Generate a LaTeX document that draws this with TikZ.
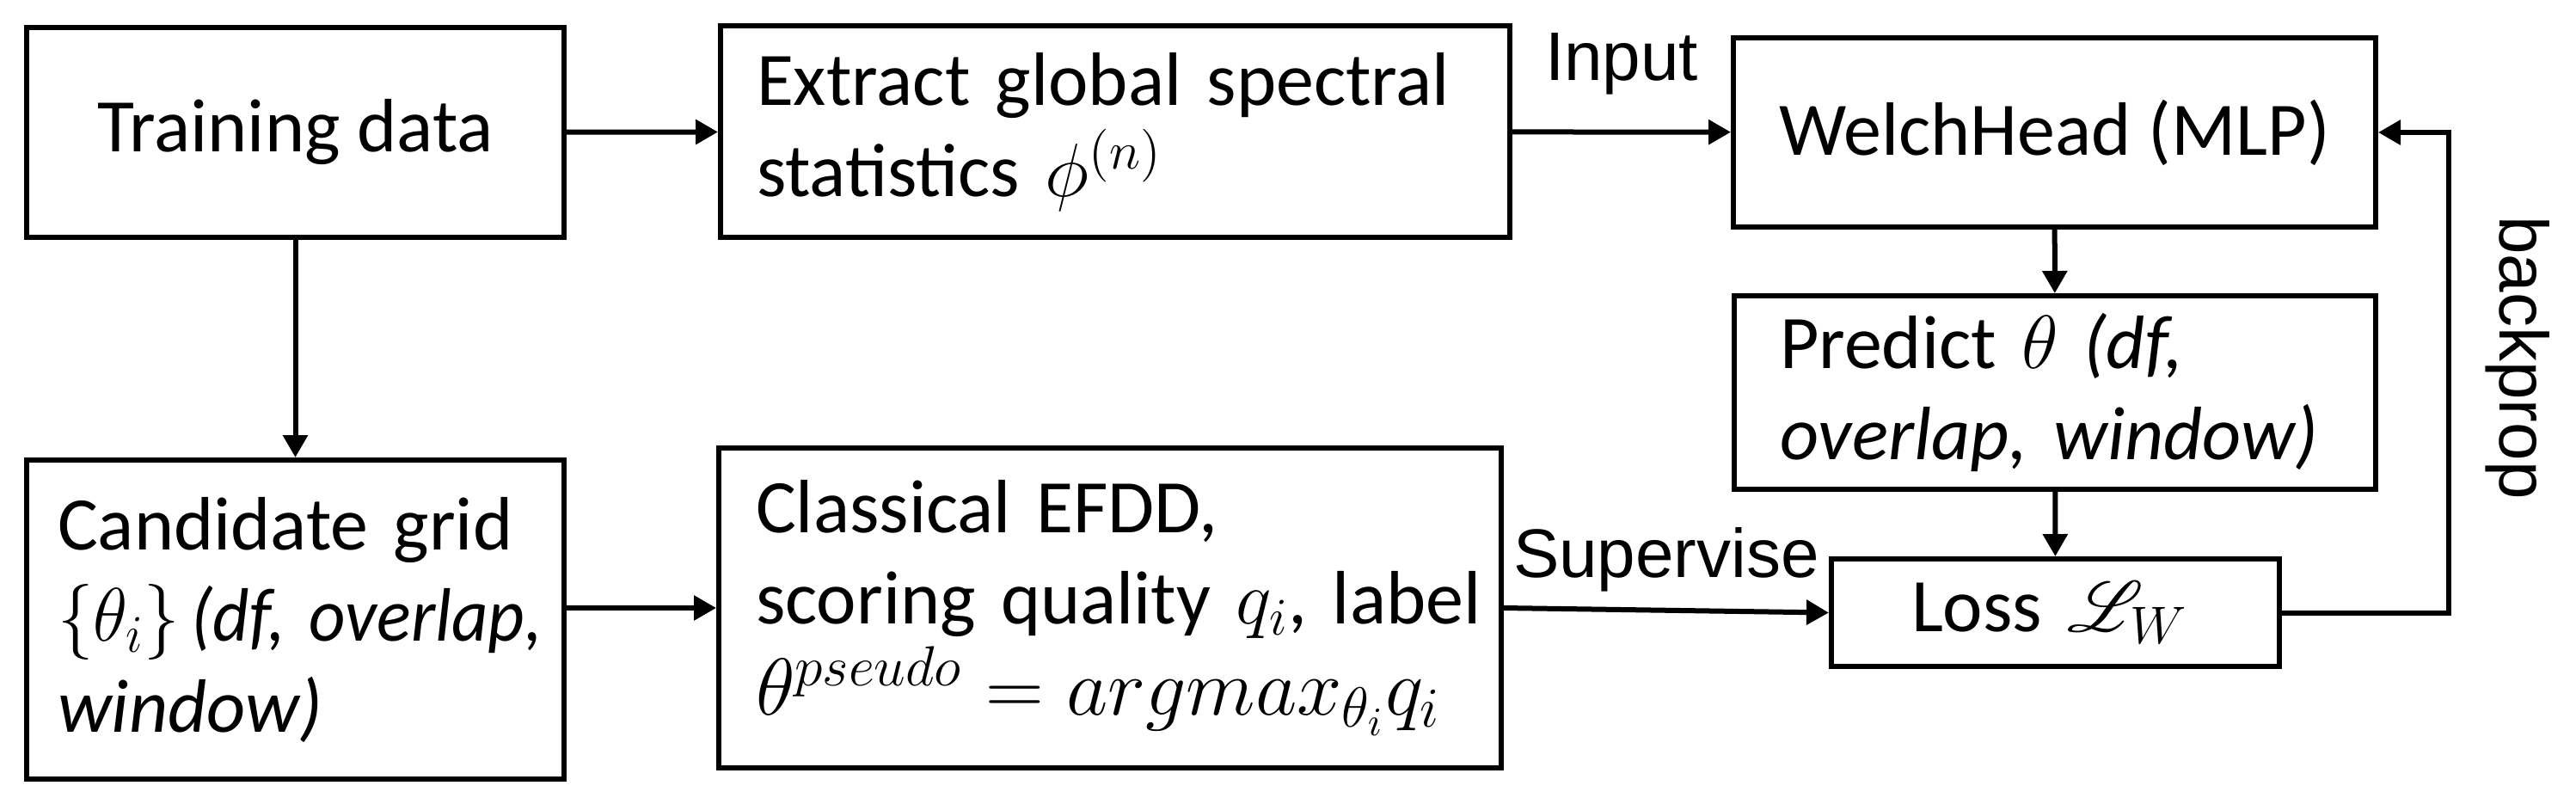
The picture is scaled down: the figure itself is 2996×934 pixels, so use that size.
\RequirePackage{fix-cm}
\documentclass[tikz,border=0pt]{standalone}
\usepackage{fontspec}
\setmainfont{Carlito}
\newfontfamily\lblfont{Liberation Sans}
\usepackage{mathrsfs}
\usetikzlibrary{arrows.meta,calc}
\hbadness=10000 \hfuzz=200pt
\begin{document}
\begin{tikzpicture}[x=0.25pt,y=-0.25pt,
  box/.style={draw, line width=1.5pt, align=left, inner sep=0pt,
    font=\fontsize{22}{26.5}\selectfont},
  arr/.style={line width=1.5pt, -{Triangle[length=6.5pt,width=7pt]}},
  lbl/.style={font=\lblfont\fontsize{20}{24}\selectfont, inner sep=0pt}]
\useasboundingbox (0,0) rectangle (2996,934);

\node[box, minimum width=156.25pt, minimum height=61pt] (train) at (343.5,154) {Training data};
\node[box, minimum width=229.5pt, minimum height=61.5pt, text width=208.5pt] (extract) at (1297,153)
  {\mbox{Extract global spectral}\\\mbox{statistics $\phi^{(n)}$}};
\node[box, minimum width=186.75pt, minimum height=55pt] (welch) at (2389.5,154) {WelchHead (MLP)};
\node[box, minimum width=186.5pt, minimum height=56.25pt, text width=160pt] (predict) at (2390,456.5)
  {\mbox{Predict $\theta$ \textit{(df,}}\\\mbox{\textit{overlap, window)}}};
\node[box, minimum width=156.25pt, minimum height=92.75pt, text width=138.25pt] (cand) at (343.5,720.5)
  {\mbox{Candidate grid}\\\scalebox{0.94}[1]{\mbox{$\{\theta_i\}$\,\textit{(df, overlap,}}}\\\mbox{\textit{window)}}};
\node[box, minimum width=227.5pt, minimum height=93pt, text width=206pt] (class) at (1291,707)
  {\mbox{Classical EFDD,}\\\mbox{scoring quality $q_i$, label}\\\mbox{\fontsize{23.5}{26.5}\selectfont$\theta^{pseudo} = argmax_{\theta_i} q_i$}};
\node[box, minimum width=130.25pt, minimum height=31.25pt, text width=83.75pt] (loss) at (2390.5,712.5)
  {\mbox{Loss $\mathscr{L}_W$}};

\coordinate (bpc) at ($(welch.east)+(82,0)$);

\draw[arr] (train) -- (extract);
\draw[arr] (extract) -- node[lbl, midway, anchor=base, yshift=15pt] (inlab) {Input} (welch);
\draw[arr] (train) -- (cand);
\draw[arr] (class.west -| cand.east) -- (class.west);
\draw[arr] (class.east) -- node[lbl, midway, anchor=base, yshift=9.5pt] (suplab) {Supervise} (loss.west);
\draw[arr] (welch) -- (predict);
\draw[arr] (predict) -- (loss);
\draw[arr] (loss.east) -| (bpc) -- (welch.east);
\node[lbl, rotate=-90, anchor=base] (bplab) at (2907,416) {backprop};
\end{tikzpicture}
\end{document}
